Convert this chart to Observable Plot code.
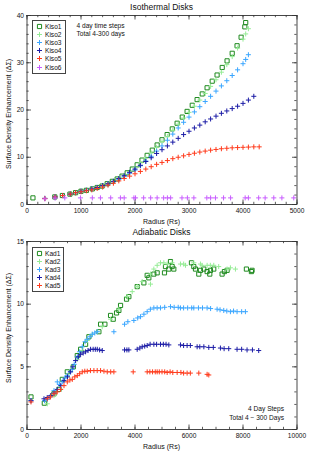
<!DOCTYPE html>
<html><head><meta charset="utf-8">
<script src="https://cdn.jsdelivr.net/npm/d3@7"></script>
<script src="https://cdn.jsdelivr.net/npm/@observablehq/plot@0.6"></script>
<style>
body{margin:0;background:#fff;}
#wrap{position:relative;width:314px;height:455px;overflow:hidden;font-family:"Liberation Sans",Arial,sans-serif;color:#111;}
.abs{position:absolute;white-space:nowrap;line-height:1;}
.title{font-size:8.5px;transform:translate(-50%,-50%);}
.xlab{font-size:7px;transform:translate(-50%,-50%);}
.ylab{font-size:7px;transform:translate(-50%,-50%) rotate(-90deg);}
.note{font-size:6.6px;}
.legend{position:absolute;border:1.3px solid #444;background:#fff;padding:1.5px 3px 1.5px 3px;}
.legend .row{display:flex;align-items:center;height:8.1px;font-size:6.6px;}
.legend svg{margin-right:2px;}
svg.plot{position:absolute;left:0;}
</style>
</head><body><div id="wrap"></div>
<script>
// ---------- data ----------
const isoNames = ["Kiso1","Kiso2","Kiso3","Kiso4","Kiso5","Kiso6"];
const adNames = ["Kad1","Kad2","Kad3","Kad4","Kad5"];

const kiso1 = [[110,1.4],[515,1.6],[655,1.9],[795,2.2],[900,2.5],[1000,2.8],[1100,3.0],[1210,3.3],[1300,3.6],[1390,3.9],[1485,4.4],[1580,4.9],[1670,5.4],[1760,6.0],[1855,6.7],[1950,7.5],[2040,8.4],[2130,9.4],[2225,10.4],[2320,11.5],[2410,12.6],[2500,13.7],[2595,14.8],[2690,16.0],[2780,17.2],[2875,18.5],[2965,19.7],[3060,21.0],[3150,22.2],[3245,23.4],[3335,24.7],[3430,26.1],[3520,27.4],[3615,29.0],[3705,30.4],[3800,32.0],[3890,33.6],[3965,35.4],[4034,37.6],[4050,38.5]];
const kiso2 = [[330,1.3],[520,1.6],[660,1.9],[800,2.2],[900,2.5],[1000,2.8],[1100,3.0],[1200,3.3],[1300,3.6],[1400,3.9],[1500,4.4],[1600,4.9],[1700,5.5],[1800,6.2],[1900,6.9],[2000,7.8],[2100,8.8],[2200,9.8],[2300,10.9],[2400,12.1],[2500,13.3],[2600,14.4],[2700,15.7],[2800,17.0],[2900,18.3],[3000,19.5],[3100,20.8],[3200,22.1],[3300,23.5],[3400,25.0],[3500,26.4],[3600,28.0],[3700,29.6],[3800,31.3],[3900,33.1],[4000,35.0],[4050,36.1],[4100,37.2]];
const kiso3 = [[520,1.6],[660,1.9],[800,2.2],[900,2.5],[1000,2.8],[1100,3.0],[1200,3.3],[1300,3.6],[1400,3.9],[1500,4.3],[1600,4.8],[1700,5.3],[1800,5.9],[1900,6.6],[2000,7.3],[2100,8.2],[2200,9.2],[2300,10.2],[2400,11.3],[2500,12.4],[2600,13.6],[2700,14.9],[2800,16.2],[2900,17.4],[3000,18.5],[3100,19.6],[3200,20.7],[3300,21.8],[3400,22.9],[3500,24.0],[3600,25.1],[3700,26.2],[3800,27.3],[3900,28.5],[4000,29.8],[4050,30.7],[4100,31.7]];
const kiso4 = [[330,1.3],[520,1.6],[660,1.9],[800,2.2],[900,2.5],[1000,2.8],[1100,3.0],[1200,3.3],[1300,3.6],[1400,4.0],[1500,4.4],[1600,4.9],[1700,5.5],[1800,6.1],[1900,6.8],[2000,7.5],[2100,8.3],[2200,9.1],[2300,9.9],[2400,10.8],[2500,11.6],[2600,12.4],[2700,13.2],[2800,14.0],[2900,14.8],[3000,15.5],[3100,16.2],[3200,16.8],[3300,17.5],[3400,18.1],[3500,18.7],[3600,19.3],[3700,19.8],[3800,20.3],[3900,20.8],[4000,21.4],[4100,22.1],[4200,22.9]];
const kiso5 = [[330,1.25],[520,1.6],[660,1.9],[800,2.2],[900,2.5],[1000,2.7],[1100,2.9],[1200,3.1],[1300,3.4],[1400,3.7],[1500,4.1],[1600,4.5],[1700,5.0],[1800,5.5],[1900,6.0],[2000,6.5],[2100,7.0],[2200,7.5],[2300,8.0],[2400,8.5],[2500,8.9],[2600,9.3],[2700,9.7],[2800,10.0],[2900,10.3],[3000,10.6],[3100,10.85],[3200,11.1],[3300,11.3],[3400,11.5],[3500,11.65],[3600,11.8],[3700,11.9],[3800,12.0],[3900,12.05],[4000,12.1],[4100,12.15],[4200,12.2],[4300,12.2]];
const kiso6 = [[330,1.2],[520,1.35],[700,1.4],[990,1.4],[1210,1.4],[1360,1.4],[1550,1.4],[1730,1.4],[1800,1.4],[1980,1.4],[2010,1.4],[2160,1.4],[2290,1.4],[2410,1.4],[2530,1.4],[2600,1.4],[2660,1.4],[2870,1.4],[2970,1.4],[3090,1.4],[3330,1.4],[3400,1.4],[3490,1.4],[3640,1.4],[3770,1.4],[4040,1.4],[4100,1.4],[4290,1.4],[4410,1.4],[4570,1.4],[4720,1.4],[4940,1.4]];

const kad1 = [[148,2.6],[641,2.1],[999,2.85],[1184,3.2],[1307,4.0],[1492,4.6],[1714,5.0],[1862,5.9],[1986,6.4],[2170,6.8],[2293,7.4],[2663,7.8],[2725,8.4],[2885,8.4],[3095,9.1],[3194,8.8],[3317,9.3],[3403,9.5],[3465,9.9],[3687,10.4],[3773,10.6],[4081,11.4],[4328,11.7],[4451,12.3],[4513,12.1],[4698,12.4],[4821,12.5],[5092,12.5],[5129,13.0],[5253,12.8],[5314,13.4],[5376,13.0],[5437,12.8],[6091,13.3],[6178,13.0],[6240,12.8],[6363,12.4],[6424,12.7],[6548,12.8],[6671,12.6],[6770,12.4],[6794,12.7],[6917,12.8],[7226,12.4],[7312,12.6],[7411,12.7],[8126,12.8],[8311,12.6],[8335,12.7]];
const kad2 = [[752,2.05],[999,2.7],[1245,3.2],[1492,4.2],[1677,4.8],[1862,5.6],[2047,6.3],[2232,7.1],[2417,7.6],[2602,7.8],[2787,8.2],[3095,8.8],[3403,9.6],[3712,10.6],[3897,11.0],[4081,11.4],[4266,11.8],[4574,11.6],[4574,12.4],[4698,12.8],[4821,13.1],[4944,13.3],[5068,13.3],[5191,13.2],[5373,13.3],[5684,13.2],[5803,13.2],[5869,13.1],[6178,13.3],[6424,13.2],[6484,13.1],[6671,13.1],[6790,13.1],[6917,13.1],[7100,13.0],[7410,12.8],[7534,12.9],[7720,12.8]];
const kad3 = [[148,2.3],[650,2.3],[752,2.4],[850,2.6],[999,3.1],[1122,3.8],[1200,3.6],[1307,3.8],[1400,4.1],[1492,4.3],[1600,4.6],[1677,4.8],[1750,5.2],[1862,5.8],[1950,6.2],[2047,6.6],[2150,7.0],[2232,7.2],[2330,7.4],[2417,7.6],[2510,7.7],[2602,7.8],[3218,7.8],[3613,8.4],[3736,8.6],[3958,8.7],[4100,8.9],[4205,9.0],[4330,9.2],[4451,9.4],[4570,9.6],[4698,9.7],[4820,9.7],[4944,9.7],[5100,9.75],[5314,9.8],[5450,9.75],[5600,9.75],[5684,9.7],[5800,9.7],[5950,9.7],[6100,9.7],[6178,9.7],[6350,9.7],[6500,9.7],[6671,9.7],[6800,9.65],[7041,9.6],[7150,9.55],[7287,9.5],[7400,9.45],[7534,9.4],[7650,9.45],[7780,9.4],[7950,9.4],[8089,9.4]];
const kad4 = [[148,2.3],[629,2.45],[750,2.55],[876,2.7],[1000,2.9],[1122,3.2],[1250,3.5],[1369,3.9],[1500,4.2],[1615,4.6],[1700,5.0],[1800,5.5],[1900,5.8],[1986,6.0],[2080,6.1],[2170,6.2],[2260,6.3],[2355,6.4],[2450,6.4],[2530,6.4],[2602,6.4],[2690,6.35],[2787,6.3],[3613,6.35],[3700,6.35],[3773,6.35],[4081,6.4],[4180,6.5],[4266,6.6],[4360,6.65],[4451,6.7],[4560,6.8],[4698,6.8],[4800,6.8],[4944,6.8],[5050,6.8],[5150,6.8],[5253,6.75],[5684,6.75],[5800,6.7],[5930,6.7],[6050,6.7],[6301,6.6],[6400,6.6],[6550,6.6],[6733,6.55],[6900,6.55],[7164,6.5],[7300,6.45],[7472,6.45],[7780,6.4],[7950,6.4],[8150,6.35],[8350,6.35],[8582,6.3]];
const kad5 = [[148,2.2],[752,2.45],[870,2.6],[999,2.85],[1120,3.0],[1245,3.2],[1370,3.5],[1492,3.8],[1590,3.95],[1677,4.0],[1770,4.2],[1862,4.3],[1950,4.45],[2047,4.6],[2140,4.65],[2232,4.65],[2350,4.7],[2478,4.7],[2600,4.7],[2725,4.7],[2850,4.65],[2972,4.6],[3100,4.6],[3218,4.6],[3933,4.6],[4451,4.6],[4550,4.6],[4650,4.6],[4750,4.6],[4821,4.6],[4900,4.6],[5000,4.6],[5100,4.6],[5191,4.55],[5300,4.6],[5400,4.55],[5561,4.55],[5700,4.55],[5800,4.5],[5930,4.5],[6050,4.5],[6363,4.5],[6671,4.4],[6733,4.35]];

const isoXMajor = [0,1000,2000,3000,4000,5000];
const isoXMinor = d3.range(0,5001,200);
const isoYMajor = [0,10,20,30,40];
const isoYMinor = d3.range(0,41,2);
const adXMajor = [0,2000,4000,6000,8000,10000];
const adXMinor = d3.range(0,10001,500);
const adYMajor = [0,5,10,15];
const adYMinor = d3.range(0,16,1);

// ---------- style ----------
const colors = ["#1f8a1f","#95ec95","#3aa6ff","#1c1ca6","#ff3b1c","#c85cff"];
const symbols = ["square","plus","plus","plus","plus","plus"];
const W = 314, ML = 26.5, MR = 17.5;
const wrap = document.getElementById("wrap");

function panel(series, opt) {
  const innerW = W - ML - MR, innerH = opt.height - opt.mt - opt.mb;
  const marks = [];
  series.forEach((s, i) => {
    marks.push(Plot.dot(s, {x: d => d[0], y: d => d[1], symbol: symbols[i], stroke: colors[i],
      r: symbols[i] === "square" ? 2.35 : 1.75, strokeWidth: 1, fill: "none"}));
  });
  const tk = "#333";
  const tx = (v, len, side) => Plot.tickX(v, {x: d => d, stroke: tk, strokeWidth: 0.8,
    [side === "b" ? "insetTop" : "insetBottom"]: innerH - len});
  const ty = (v, len, side) => Plot.tickY(v, {y: d => d, stroke: tk, strokeWidth: 0.8,
    [side === "l" ? "insetRight" : "insetLeft"]: innerW - len});
  marks.push(tx(opt.xMinor, 2.2, "b"), tx(opt.xMinor, 2.2, "t"), tx(opt.xMajor, 4.5, "b"), tx(opt.xMajor, 4.5, "t"));
  marks.push(ty(opt.yMinor, 2.2, "l"), ty(opt.yMinor, 2.2, "r"), ty(opt.yMajor, 4.5, "l"), ty(opt.yMajor, 4.5, "r"));
  marks.push(Plot.frame({stroke: "#333", strokeWidth: 0.9}));
  marks.push(Plot.axisX({ticks: opt.xMajor, tickSize: 0, tickPadding: 4, label: null, fontSize: 6.6, tickFormat: d3.format("d")}));
  marks.push(Plot.axisY({ticks: opt.yMajor, tickSize: 0, tickPadding: 3, label: null, fontSize: 6.6, tickFormat: d3.format("d")}));
  const svg = Plot.plot({
    width: W, height: opt.height, marginLeft: ML, marginRight: MR, marginTop: opt.mt, marginBottom: opt.mb,
    x: {domain: opt.xDomain}, y: {domain: opt.yDomain},
    style: {fontFamily: '"Liberation Sans",Arial,sans-serif', color: "#111", background: "transparent", overflow: "visible"},
    marks
  });
  svg.classList.add("plot");
  svg.style.top = opt.top + "px";
  wrap.appendChild(svg);
}

function addText(cls, text, x, y, extra) {
  const d = document.createElement("div");
  d.className = "abs " + cls;
  d.textContent = text;
  d.style.left = x + "px"; d.style.top = y + "px";
  if (extra) Object.assign(d.style, extra);
  wrap.appendChild(d);
}

function legend(names, x, y) {
  const box = document.createElement("div");
  box.className = "legend";
  box.style.left = x + "px"; box.style.top = y + "px";
  names.forEach((n, i) => {
    const row = document.createElement("div");
    row.className = "row";
    const sym = symbols[i] === "square" ? d3.symbolSquare : d3.symbolPlus;
    const size = symbols[i] === "square" ? Math.PI * 2.35 * 2.35 : Math.PI * 1.75 * 1.75;
    row.innerHTML = `<svg width="7" height="7" viewBox="-3.5 -3.5 7 7"><path d="${d3.symbol(sym, size)()}" fill="none" stroke="${colors[i]}" stroke-width="1"/></svg><span>${n}</span>`;
    box.appendChild(row);
  });
  wrap.appendChild(box);
}

// top panel
panel([kiso1, kiso2, kiso3, kiso4, kiso5, kiso6], {
  top: 0, height: 227, mt: 15, mb: 23, xDomain: [0,5000], yDomain: [0,40],
  xMajor: isoXMajor, xMinor: isoXMinor, yMajor: isoYMajor, yMinor: isoYMinor
});
addText("title", "Isothermal Disks", 161.5, 6.5);
addText("xlab", "Radius (Rs)", 161.5, 220.5);
addText("ylab", "Surface Density Enhancement (ΔΣ)", 7.5, 114);
addText("note", "4 day time steps", 76.5, 23);
addText("note", "Total 4-300 days", 76.5, 30.5);
legend(isoNames, 32, 20);

// bottom panel
panel([kad1, kad2, kad3, kad4, kad5], {
  top: 225, height: 230, mt: 16, mb: 26, xDomain: [0,10000], yDomain: [0,15],
  xMajor: adXMajor, xMinor: adXMinor, yMajor: adYMajor, yMinor: adYMinor
});
addText("title", "Adiabatic Disks", 161.5, 232);
addText("xlab", "Radius (Rs)", 161.5, 446);
addText("ylab", "Surface Density Enhancement (ΔΣ)", 7.5, 328);
addText("note", "4 Day Steps", 0, 406, {left: "auto", right: (314 - 284) + "px"});
addText("note", "Total 4 − 300 Days", 0, 414.5, {left: "auto", right: (314 - 284) + "px"});
legend(adNames, 32, 247);
</script></body></html>
